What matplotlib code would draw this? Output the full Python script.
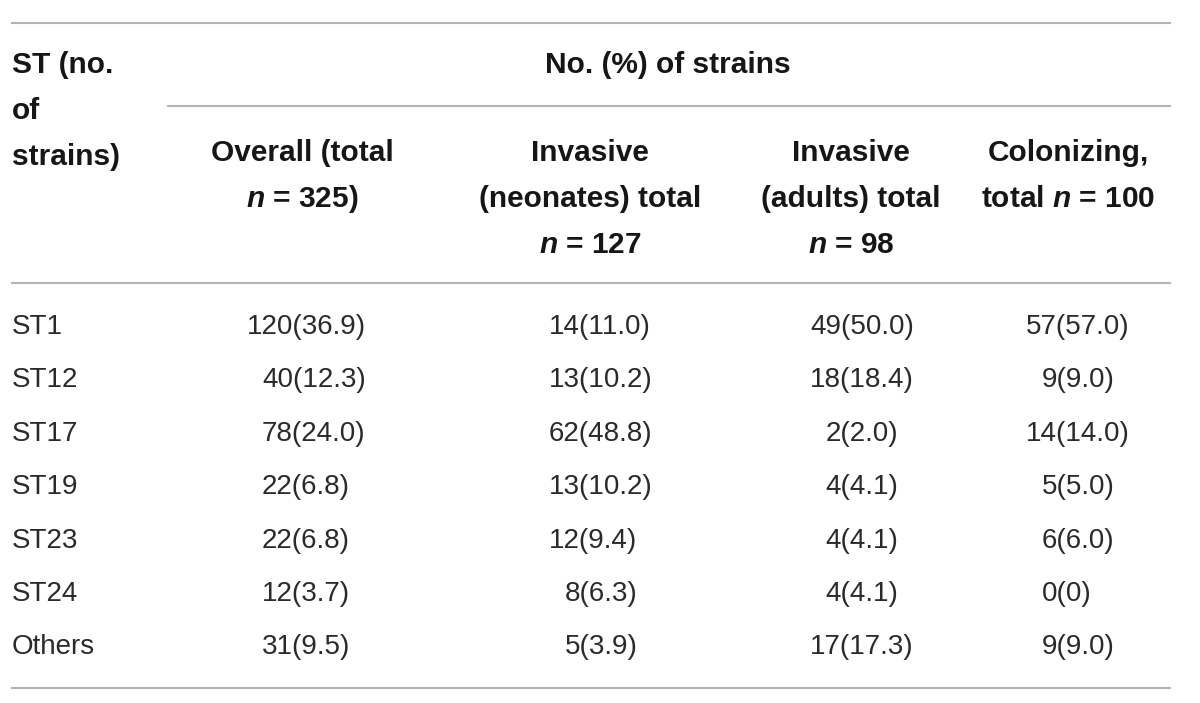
import matplotlib
matplotlib.use("Agg")
import matplotlib.pyplot as plt

plt.rcParams["font.family"] = ["Liberation Sans", "DejaVu Sans"]
plt.rcParams["mathtext.fontset"] = "custom"
plt.rcParams["mathtext.it"] = "Liberation Sans:italic:bold"
plt.rcParams["mathtext.rm"] = "Liberation Sans:bold"

# --- table data ---------------------------------------------------------
st_types = ["ST1", "ST12", "ST17", "ST19", "ST23", "ST24", "Others"]
overall_n = [120, 40, 78, 22, 22, 12, 31]
overall_pct = ["36.9", "12.3", "24.0", "6.8", "6.8", "3.7", "9.5"]
neonates_n = [14, 13, 62, 13, 12, 8, 5]
neonates_pct = ["11.0", "10.2", "48.8", "10.2", "9.4", "6.3", "3.9"]
adults_n = [49, 18, 2, 4, 4, 4, 17]
adults_pct = ["50.0", "18.4", "2.0", "4.1", "4.1", "4.1", "17.3"]
colon_n = [57, 9, 14, 5, 6, 0, 9]
colon_pct = ["57.0", "9.0", "14.0", "5.0", "6.0", "0", "9.0"]

first_header = ["ST (no.", "of", "strains)"]
span_header = "No. (%) of strains"
col_headers = [
    ["Overall (total", r"$n$ = 325)"],
    ["Invasive", "(neonates) total", r"$n$ = 127"],
    ["Invasive", "(adults) total", r"$n$ = 98"],
    ["Colonizing,", r"total $n$ = 100"],
]

# --- layout (pixel coords) ---------------------------------------------
W, H = 1200, 703
fig = plt.figure(figsize=(W / 100, H / 100), dpi=100)
ax = fig.add_axes([0, 0, 1, 1])
ax.set_xlim(0, W)
ax.set_ylim(H, 0)
ax.axis("off")

line_c = "#b4b4b4"
txt_bold = "#161616"
txt_body = "#2a2a2a"
fs_body = 20
fs_head = 21.5
digit_w = 0.556 * fs_body * 100 / 72  # tabular digit advance in px

# rules
ax.plot([12, 1170], [23, 23], color=line_c, lw=1.5)
ax.plot([168, 1170], [106, 106], color=line_c, lw=1.5)
ax.plot([12, 1170], [283, 283], color=line_c, lw=1.5)
ax.plot([12, 1170], [688, 688], color=line_c, lw=1.5)

# header
for i, s in enumerate(first_header):
    ax.text(12, 65 + i * 46, s, fontsize=fs_head, fontweight="bold", color=txt_bold,
            ha="left", va="center")
ax.text(668, 65, span_header, fontsize=fs_head, fontweight="bold", color=txt_bold,
        ha="center", va="center")

col_centers = [302, 590, 851, 1068]
for cx, lines in zip(col_centers, col_headers):
    for i, s in enumerate(lines):
        ax.text(cx, 153 + i * 46, s, fontsize=fs_head, fontweight="bold", color=txt_bold,
                ha="center", va="center")

# body rows, aligned on the opening parenthesis
paren_x = [293, 580, 841, 1057]
columns = [(overall_n, overall_pct), (neonates_n, neonates_pct),
           (adults_n, adults_pct), (colon_n, colon_pct)]
row_y0, row_step = 327, 53.4
for r, st in enumerate(st_types):
    y = row_y0 + r * row_step
    ax.text(12, y, st, fontsize=fs_body, color=txt_body, ha="left", va="center")
    for px, (nums, pcts) in zip(paren_x, columns):
        num = str(nums[r])
        ax.text(px - len(num) * digit_w, y, f"{num}({pcts[r]})", fontsize=fs_body,
                color=txt_body, ha="left", va="center")

fig.savefig("out.png", dpi=100, facecolor="white")
